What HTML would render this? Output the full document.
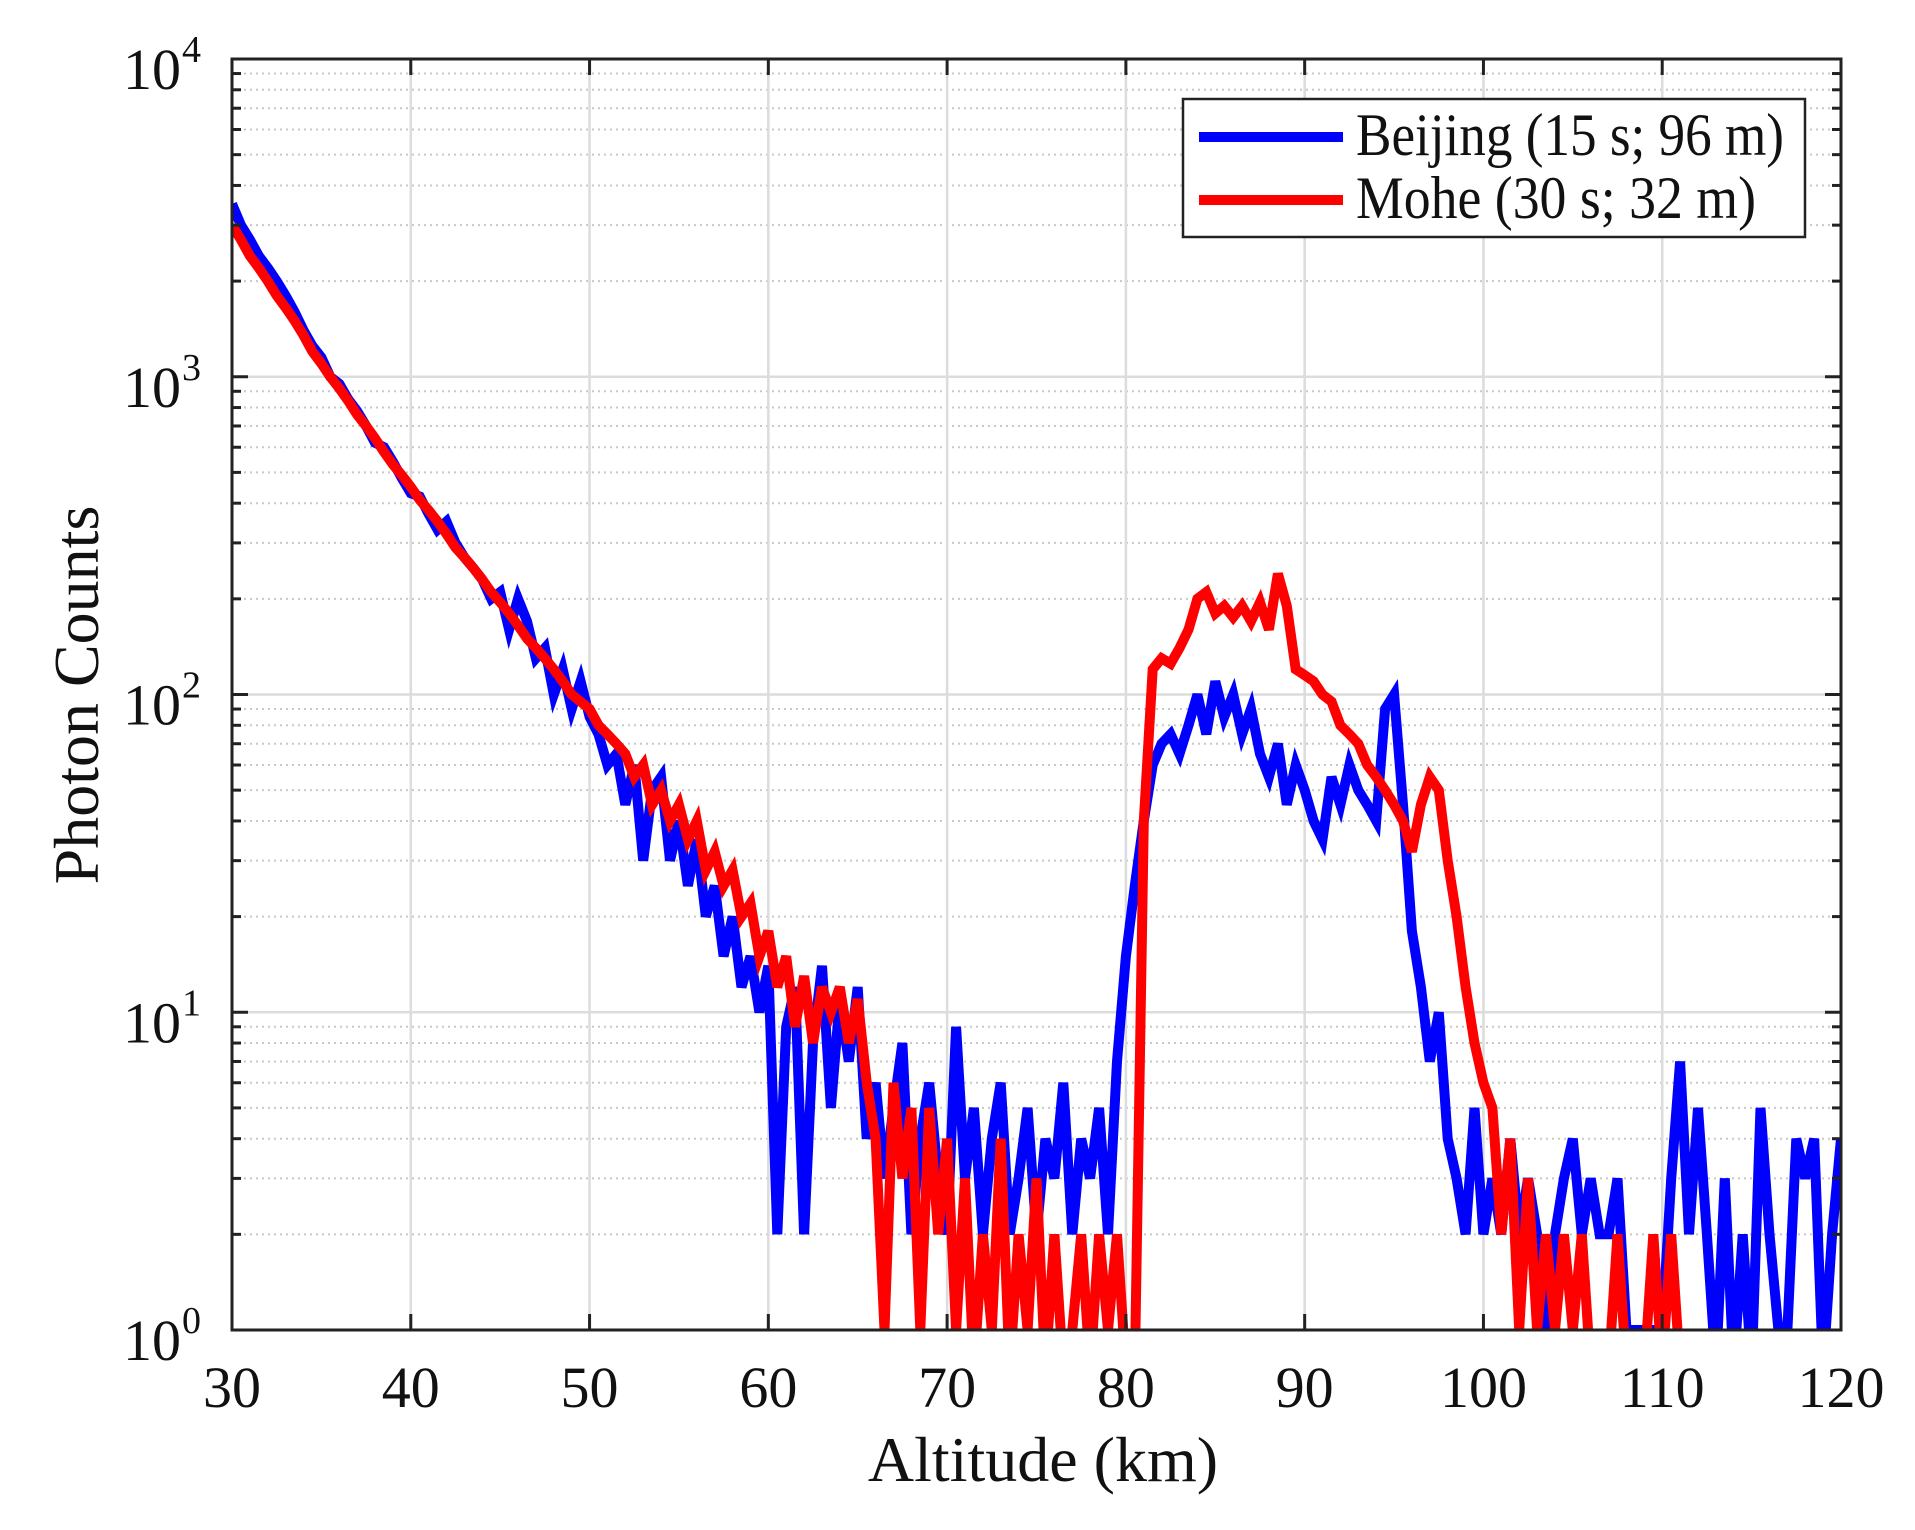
<!DOCTYPE html>
<html><head><meta charset="utf-8"><style>
html,body{margin:0;padding:0;background:#fff;}
svg{display:block;font-family:"Liberation Serif",serif;}
</style></head><body>
<svg id="chart" width="1915" height="1530" viewBox="0 0 1915 1530" xmlns="http://www.w3.org/2000/svg">
<defs><clipPath id="pc"><rect x="232" y="59" width="1609" height="1271"/></clipPath></defs>
<g id="grid"></g>
<g id="series" clip-path="url(#pc)"></g>
<g id="axes"></g>
<text x="98" y="695" font-size="64" text-anchor="middle" transform="rotate(-90 98 695)" fill="#111">Photon Counts</text>
<text x="1043" y="1481" font-size="64" text-anchor="middle" fill="#111">Altitude (km)</text>
<g>
<rect x="1183" y="99" width="622" height="138" fill="#fff" stroke="#222" stroke-width="2.5"/>
<line x1="1199" y1="137" x2="1343" y2="137" stroke="#0000ff" stroke-width="10"/>
<text x="1356" y="155" font-size="60" fill="#111" textLength="428" lengthAdjust="spacingAndGlyphs">Beijing (15 s; 96 m)</text>
<line x1="1199" y1="200" x2="1343" y2="200" stroke="#ff0000" stroke-width="10"/>
<text x="1356" y="218" font-size="60" fill="#111" textLength="400" lengthAdjust="spacingAndGlyphs">Mohe (30 s; 32 m)</text>
</g>
</svg>
<script>
const altStart = 30, altStep = 0.5;
const xTicks = [30,40,50,60,70,80,90,100,110,120];
const yDecades = [0,1,2,3,4];
const beijing = [
3500,3000,2700,2400,2200,2000,1800,1600,1400,1250,1150,1000,950,850,780,700,620,600,540,480,
430,420,370,330,350,300,270,250,230,200,210,160,200,170,130,140,100,120,90,110,
85,75,60,65,45,60,30,50,55,30,40,25,35,20,25,15,20,12,15,10,
14,2,9,12,2,8,14,5,11,7,12,4,6,3,5,8,2,4,6,3,
2,9,3,5,2,4,6,2,3,5,2,4,3,6,2,4,3,5,2,7,
15,25,40,60,70,75,65,80,100,75,110,85,100,75,90,65,55,70,45,60,
50,40,35,55,45,60,50,45,40,90,100,45,18,12,7,10,4,3,2,5,
2,3,2,4,2,3,2,1,2,3,4,2,3,2,2,3,1,1,1,1,
1,3,7,2,5,2,0,3,0,2,0,5,2,1,1,4,3,4,0,2,
4];
const mohe = [
3000,2700,2400,2200,2000,1800,1650,1500,1350,1200,1100,1000,920,840,760,700,640,580,530,490,
450,410,380,350,320,290,270,250,230,210,195,180,165,150,140,130,120,110,100,95,
90,80,75,70,65,55,60,45,50,40,45,35,40,28,32,25,28,20,22,15,
18,12,15,9,13,8,12,10,12,8,11,6,4,1,6,3,5,1,5,2,
4,1,3,0,2,1,4,0,2,1,3,0,2,0,1,2,0,2,1,2,
0,0,40,120,130,125,140,160,200,210,180,190,175,190,170,195,160,240,190,120,
115,110,100,95,80,75,70,60,55,50,45,40,32,45,55,50,30,20,12,8,
6,5,2,4,1,3,1,2,1,2,1,2,0,1,0,2,0,1,0,2,
0,2,0,0,0,0,0,0,0,0,0,0,0,0,0,0,0,0,0,0,
0];
const X0=232,X1=1841,Y0=1330,Y1=59;
function xs(a){return X0+(a-30)/(120-30)*(X1-X0);}
function ys(v){if(v<=0)return Y0+40;return Y0-Math.log10(v)/4*(Y0-Y1);}
const NS="http://www.w3.org/2000/svg";
function mk(tag,attrs,parent){const e=document.createElementNS(NS,tag);for(const k in attrs)e.setAttribute(k,attrs[k]);parent.appendChild(e);return e;}
const grid=document.getElementById('grid'),axes=document.getElementById('axes'),ser=document.getElementById('series');
for(let d=0;d<4;d++){for(let m=2;m<=9;m++){const y=ys(Math.pow(10,d)*m);
const l=mk('line',{x1:X0,x2:X1,y1:y,y2:y,stroke:'#c8c8c8','stroke-width':2,'stroke-dasharray':'2 4'},grid);


const t1=mk('line',{x1:X0,x2:X0+9,y1:y,y2:y,stroke:'#222','stroke-width':3},axes);


const t2=mk('line',{x1:X1-9,x2:X1,y1:y,y2:y,stroke:'#222','stroke-width':3},axes);


}}
yDecades.forEach(d=>{const y=ys(Math.pow(10,d));
const l=mk('line',{x1:X0,x2:X1,y1:y,y2:y,stroke:'#dcdcdc','stroke-width':2.5},grid);


const t1=mk('line',{x1:X0,x2:X0+16,y1:y,y2:y,stroke:'#222','stroke-width':3},axes);


const t2=mk('line',{x1:X1-16,x2:X1,y1:y,y2:y,stroke:'#222','stroke-width':3},axes);


const tx=mk('text',{x:181,y:y+30,'font-size':58,'text-anchor':'end',fill:'#111'},axes);
tx.textContent='10';


const sp=mk('text',{x:182,y:y+3,'font-size':38,fill:'#111'},axes);
sp.textContent=String(d);


});
xTicks.forEach(v=>{const x=xs(v);
const l=mk('line',{x1:x,x2:x,y1:Y1,y2:Y0,stroke:'#dcdcdc','stroke-width':2.5},grid);


const t1=mk('line',{x1:x,x2:x,y1:Y0-16,y2:Y0,stroke:'#222','stroke-width':3},axes);


const t2=mk('line',{x1:x,x2:x,y1:Y1,y2:Y1+16,stroke:'#222','stroke-width':3},axes);


const tx=mk('text',{x:x,y:1407,'font-size':58,'text-anchor':'middle',fill:'#111'},axes);
tx.textContent=String(v);


});
const fr=mk('rect',{x:X0,y:Y1,width:X1-X0,height:Y0-Y1,fill:'none',stroke:'#222','stroke-width':3},axes);


function draw(arr,color,name){
let pts=[];arr.forEach((v,i)=>{pts.push(xs(altStart+i*altStep).toFixed(1)+','+ys(v).toFixed(1));});
const p=mk('polyline',{points:pts.join(' '),fill:'none',stroke:color,'stroke-width':10,'stroke-linejoin':'miter'},ser);


}
draw(beijing,'#0000ff','beijing-line');
draw(mohe,'#ff0000','mohe-line');
</script>
</body></html>
